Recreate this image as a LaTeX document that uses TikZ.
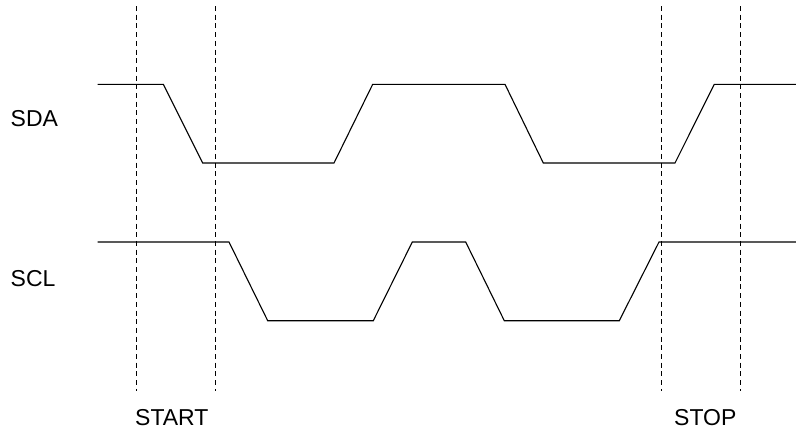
\documentclass[tikz,border=0pt]{standalone}
\usepackage{fontspec}
\setmainfont{Liberation Sans}
\begin{document}
\begin{tikzpicture}[
    x=1pt, y=-1pt,
    signal/.style={draw, line width=1.1pt, line join=miter},
    marker/.style={draw, line width=1pt, dash pattern=on 5pt off 3.7pt},
    every node/.style={inner sep=0pt, font=\fontsize{23}{27}\selectfont}
]
\useasboundingbox (0,0) rectangle (796,429);
% dashed markers
\foreach \xm in {136.7, 215.7, 661.7, 740.7}
    \draw[marker] (\xm,6) -- (\xm,391);
% SDA
\draw[signal] (97.7,84.3) -- (163.3,84.3) -- (202.7,163) -- (334,163)
    -- (372.7,84.3) -- (505,84.3) -- (543.3,163) -- (675,163)
    -- (714.3,84.3) -- (796,84.3);
% SCL
\draw[signal] (97.7,242) -- (229,242) -- (267.7,320.7) -- (373.3,320.7)
    -- (412.3,242) -- (465.7,242) -- (504.3,320.7) -- (619.3,320.7)
    -- (659,242) -- (796,242);
% labels
\node[anchor=base west] (sda) at (10.5,126.7) {SDA};
\node[anchor=base west] (scl) at (10.5,286) {SCL};
\node[anchor=base west] (start) at (135,425) {START};
\node[anchor=base west] (stop) at (674,425) {STOP};
\end{tikzpicture}
\end{document}
